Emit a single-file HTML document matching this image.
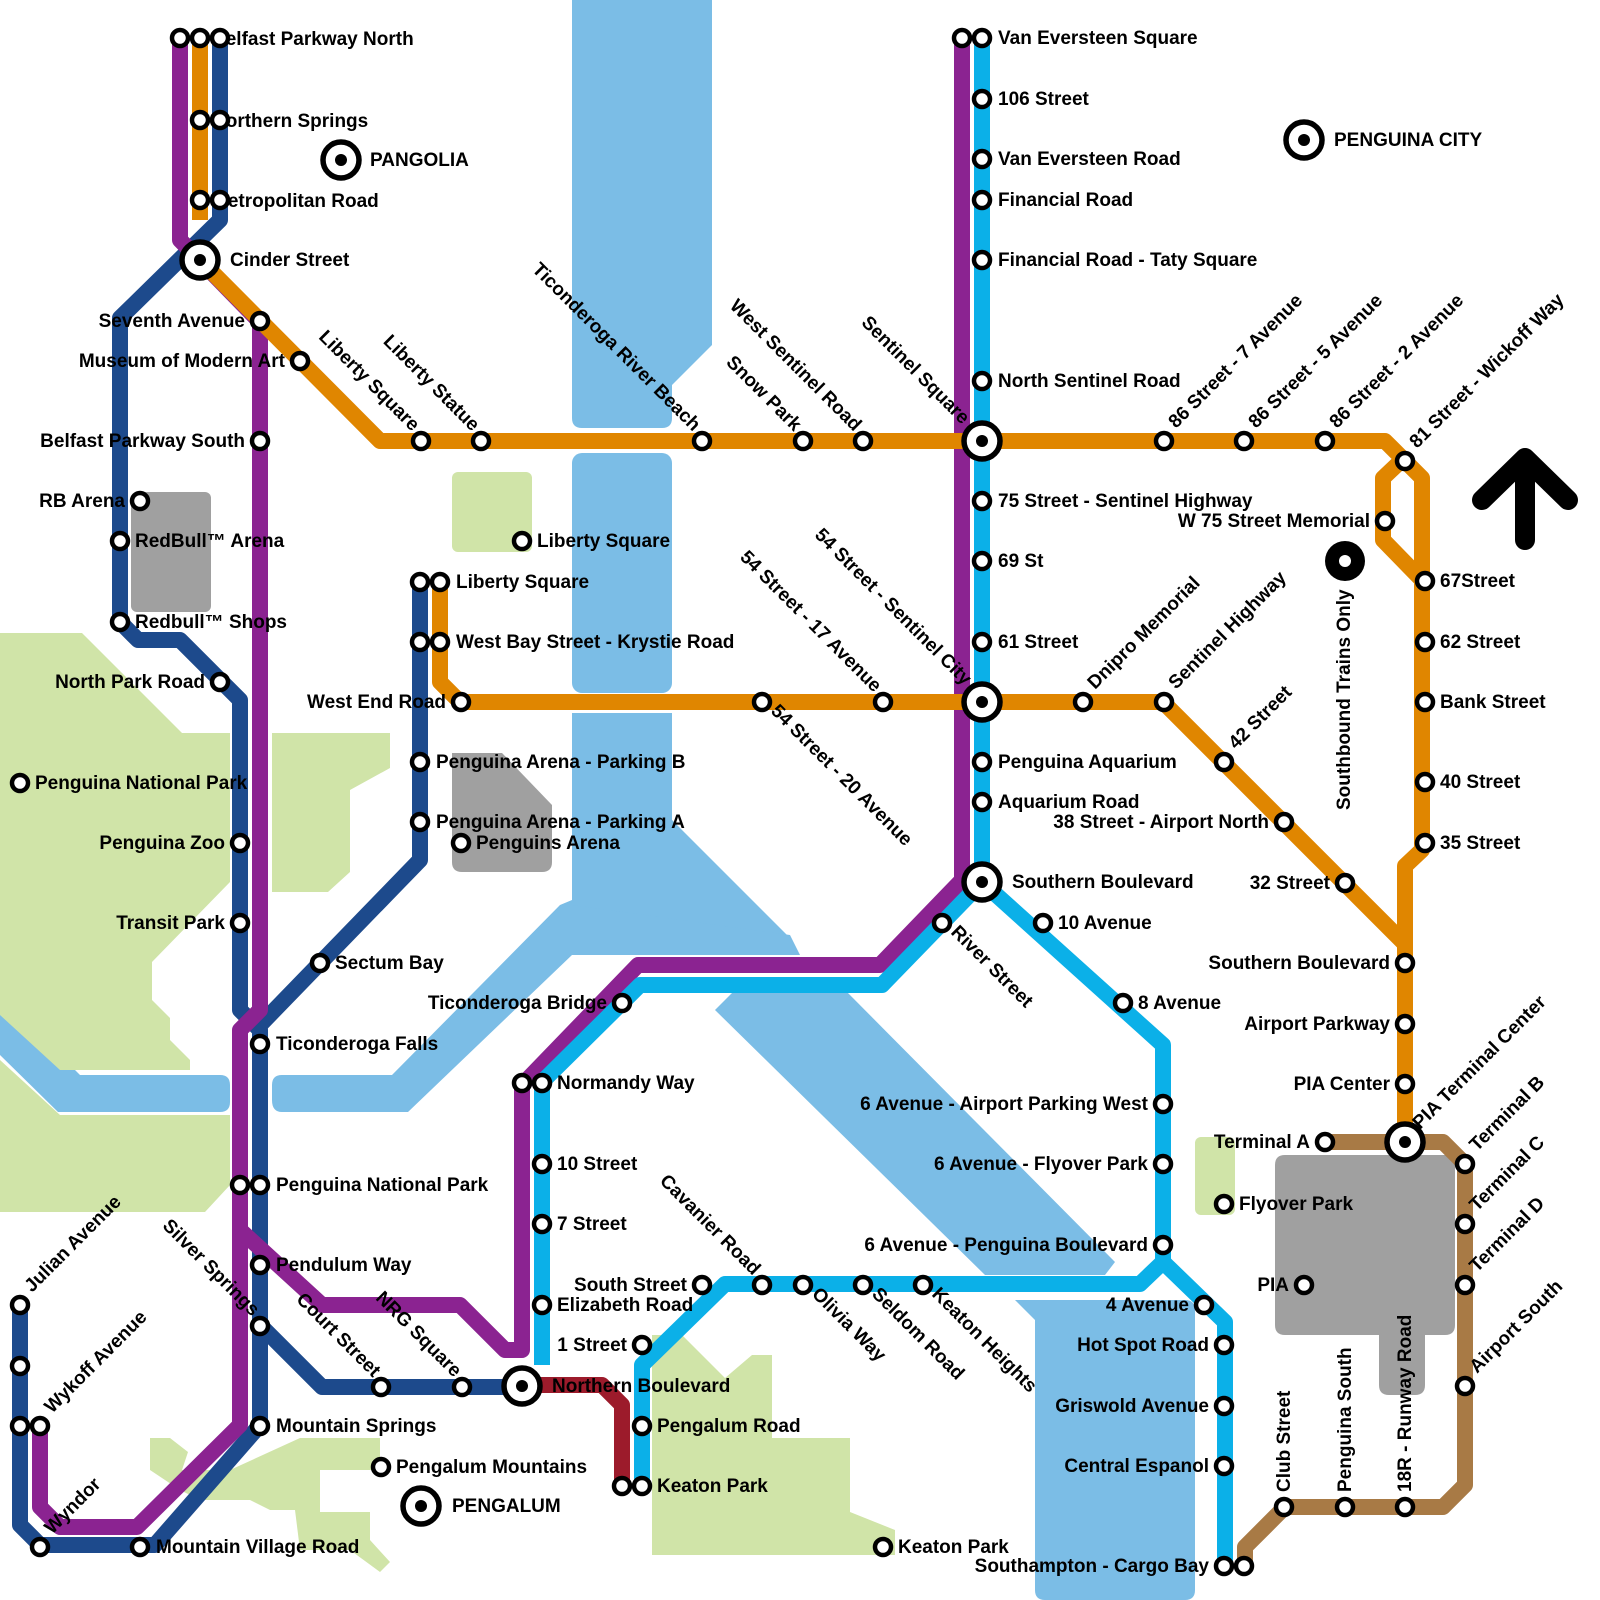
<!DOCTYPE html>
<html><head><meta charset="utf-8"><style>
html,body{margin:0;padding:0;background:#fff}
svg{display:block}
text{font-family:"Liberation Sans",Arial,sans-serif;font-weight:bold;font-size:19px;fill:#000}
.e{text-anchor:end}
</style></head><body>
<svg width="1600" height="1600" viewBox="0 0 1600 1600" xmlns="http://www.w3.org/2000/svg">
<g fill="#7bbde6">
<path d="M572,0 H712 V345 L672,385 V418 Q672,428 662,428 H582 Q572,428 572,418 Z"/>
<rect x="572" y="453" width="100" height="240" rx="10"/>
<path d="M572,713 H672 V820 L792,940 L572,955 Z"/>
<path d="M572,900 L572,955 L408,1112 H282 Q272,1112 272,1100 V1085 Q272,1075 282,1075 H392 L560,905 Z"/>
<path d="M0,1015 H20 L80,1075 H220 Q230,1075 230,1085 V1102 Q230,1112 220,1112 H58 L0,1055 Z"/>
<path d="M572,905 L572,955 L800,955 L790,935 Z"/>
<path d="M715,1010 L735,990 L845,990 L1115,1262 L1105,1275 L985,1275 Z"/>
<path d="M1015,1300 H1185 Q1195,1300 1195,1310 V1590 Q1195,1600 1185,1600 H1045 Q1035,1600 1035,1590 V1320 L1015,1300 Z"/>
</g>
<g fill="#d0e4a8">
<path d="M0,633 H82 L182,733 H230 V882 L152,962 V1000 L170,1018 V1040 L190,1060 V1070 H60 L0,1015 Z"/>
<path d="M0,1060 L60,1115 H230 V1185 L205,1212 H0 Z"/>
<path d="M272,733 H390 V768 L350,790 V872 L328,892 H272 Z"/>
<rect x="452" y="472" width="80" height="80" rx="6"/>
<rect x="1195" y="1137" width="40" height="78" rx="6"/>
<path d="M150,1438 L170,1438 L188,1452 L182,1470 L230,1470 L300,1438 H380 V1470 H320 V1512 H370 V1540 L390,1562 L380,1572 L350,1550 L300,1550 L295,1510 L270,1510 L250,1500 H200 L180,1490 L150,1470 Z"/>
<path d="M652,1335 L682,1335 L725,1378 L752,1355 H772 V1438 H850 V1512 L895,1530 V1555 H652 Z"/>
</g>
<g fill="#a0a0a0">
<rect x="131" y="492" width="80" height="120" rx="6"/>
<path d="M452,753 H502 L552,805 V862 Q552,872 542,872 H462 Q452,872 452,862 Z"/>
<path d="M1285,1155 H1445 Q1455,1155 1455,1165 V1325 Q1455,1335 1445,1335 H1425 V1385 Q1425,1395 1415,1395 H1389 Q1379,1395 1379,1385 V1335 H1285 Q1275,1335 1275,1325 V1165 Q1275,1155 1285,1155 Z"/>
</g>
<g fill="none" stroke-width="16" stroke-linejoin="round">
<path stroke="#1d4a8c" d="M220,38 V220 L120,318 V622 L138,640 H180 L240,700 V1010 L260,1030 V1425 L155,1545 H40 L20,1525 V1305"/>
<path stroke="#1d4a8c" d="M420,582 V860 L260,1025"/>
<path stroke="#1d4a8c" d="M260,1325 L322,1387 H522"/>
<path stroke="#8b2391" d="M180,38 V240 L260,322 V1010 L240,1030 V1425 L137,1527 H60 L40,1507 V1425"/>
<path stroke="#8b2391" d="M240,1230 L322,1305 H460 L505,1350 L522,1350 V1085 L638,965 H880 L962,880 V38"/>
<path stroke="#e08600" d="M200,38 V220"/>
<path stroke="#e08600" d="M200,260 L380,441 H1385 L1422,478 V850 L1405,866 V1142"/>
<path stroke="#e08600" d="M1402,460 L1383,478 V540 L1422,580"/>
<path stroke="#e08600" d="M440,582 V682 L460,702 H1163 L1405,944"/>
<path stroke="#0bb0e8" d="M982,38 V882 L1163,1045 V1262 L1225,1322 V1565"/>
<path stroke="#0bb0e8" d="M982,882 L882,985 H640 L542,1082 V1365"/>
<path stroke="#0bb0e8" d="M1163,1262 L1140,1284 H725 L642,1365 V1485"/>
<path stroke="#9c1b2b" d="M522,1385 H602 L622,1405 V1485"/>
<path stroke="#a87a45" d="M1325,1142 H1443 L1465,1164 V1485 L1443,1507 H1285 L1245,1547 V1565"/>
</g>
<g stroke="#000" stroke-width="20" stroke-linecap="round" stroke-linejoin="round" fill="none">
<path d="M1482,500 L1525,458 L1568,500"/><path d="M1525,462 V540"/>
</g>
<text x="212" y="45">Belfast Parkway North</text>
<text x="212" y="127">Northern Springs</text>
<text x="212" y="207">Metropolitan Road</text>
<g fill="#fff" stroke="#000" stroke-width="4.5">
<circle cx="180" cy="38" r="8"/><circle cx="200" cy="38" r="8"/><circle cx="220" cy="38" r="8"/>
<circle cx="200" cy="120" r="8"/><circle cx="220" cy="120" r="8"/>
<circle cx="200" cy="200" r="8"/><circle cx="220" cy="200" r="8"/>
<circle cx="260" cy="321" r="8"/><circle cx="300" cy="361" r="8"/>
<circle cx="260" cy="441" r="8"/><circle cx="140" cy="501" r="8"/><circle cx="120" cy="541" r="8"/>
<circle cx="120" cy="622" r="8"/><circle cx="220" cy="682" r="8"/><circle cx="20" cy="783" r="8"/>
<circle cx="240" cy="843" r="8"/><circle cx="240" cy="923" r="8"/><circle cx="320" cy="963" r="8"/>
<circle cx="260" cy="1044" r="8"/><circle cx="240" cy="1185" r="8"/><circle cx="260" cy="1185" r="8"/>
<circle cx="260" cy="1265" r="8"/><circle cx="260" cy="1326" r="8"/><circle cx="260" cy="1426" r="8"/>
<circle cx="20" cy="1305" r="8"/><circle cx="20" cy="1366" r="8"/><circle cx="20" cy="1426" r="8"/><circle cx="40" cy="1426" r="8"/>
<circle cx="40" cy="1547" r="8"/><circle cx="140" cy="1547" r="8"/>
<circle cx="381" cy="1387" r="8"/><circle cx="462" cy="1387" r="8"/><circle cx="381" cy="1467" r="8"/>
<circle cx="421" cy="441" r="8"/><circle cx="481" cy="441" r="8"/><circle cx="702" cy="441" r="8"/>
<circle cx="803" cy="441" r="8"/><circle cx="863" cy="441" r="8"/>
<circle cx="1164" cy="441" r="8"/><circle cx="1244" cy="441" r="8"/><circle cx="1325" cy="441" r="8"/><circle cx="1405" cy="461" r="8"/>
<circle cx="522" cy="541" r="8"/><circle cx="420" cy="582" r="8"/><circle cx="440" cy="582" r="8"/>
<circle cx="420" cy="642" r="8"/><circle cx="440" cy="642" r="8"/><circle cx="461" cy="702" r="8"/>
<circle cx="420" cy="762" r="8"/><circle cx="420" cy="822" r="8"/><circle cx="461" cy="843" r="8"/>
<circle cx="762" cy="702" r="8"/><circle cx="883" cy="702" r="8"/><circle cx="1083" cy="702" r="8"/><circle cx="1164" cy="702" r="8"/>
<circle cx="1224" cy="762" r="8"/><circle cx="1284" cy="822" r="8"/><circle cx="1345" cy="883" r="8"/>
<circle cx="962" cy="38" r="8"/><circle cx="982" cy="38" r="8"/><circle cx="982" cy="99" r="8"/><circle cx="982" cy="159" r="8"/>
<circle cx="982" cy="200" r="8"/><circle cx="982" cy="260" r="8"/><circle cx="982" cy="381" r="8"/>
<circle cx="982" cy="501" r="8"/><circle cx="982" cy="561" r="8"/><circle cx="982" cy="642" r="8"/>
<circle cx="982" cy="762" r="8"/><circle cx="982" cy="802" r="8"/>
<circle cx="942" cy="923" r="8"/><circle cx="1043" cy="923" r="8"/><circle cx="1123" cy="1003" r="8"/>
<circle cx="1163" cy="1104" r="8"/><circle cx="1163" cy="1164" r="8"/><circle cx="1163" cy="1245" r="8"/>
<circle cx="1204" cy="1305" r="8"/><circle cx="1224" cy="1345" r="8"/><circle cx="1224" cy="1406" r="8"/><circle cx="1224" cy="1466" r="8"/>
<circle cx="1224" cy="1566" r="8"/><circle cx="1244" cy="1566" r="8"/>
<circle cx="622" cy="1003" r="8"/><circle cx="522" cy="1083" r="8"/><circle cx="542" cy="1083" r="8"/>
<circle cx="542" cy="1164" r="8"/><circle cx="542" cy="1224" r="8"/><circle cx="542" cy="1305" r="8"/>
<circle cx="702" cy="1285" r="8"/><circle cx="762" cy="1285" r="8"/><circle cx="803" cy="1285" r="8"/><circle cx="863" cy="1285" r="8"/><circle cx="923" cy="1285" r="8"/>
<circle cx="642" cy="1345" r="8"/><circle cx="642" cy="1426" r="8"/><circle cx="622" cy="1486" r="8"/><circle cx="642" cy="1486" r="8"/>
<circle cx="883" cy="1547" r="8"/><circle cx="1224" cy="1204" r="8"/>
<circle cx="1385" cy="521" r="8"/><circle cx="1425" cy="581" r="8"/><circle cx="1425" cy="642" r="8"/><circle cx="1425" cy="702" r="8"/>
<circle cx="1425" cy="782" r="8"/><circle cx="1425" cy="843" r="8"/>
<circle cx="1405" cy="963" r="8"/><circle cx="1405" cy="1024" r="8"/><circle cx="1405" cy="1084" r="8"/>
<circle cx="1325" cy="1142" r="8"/><circle cx="1465" cy="1164" r="8"/><circle cx="1465" cy="1224" r="8"/><circle cx="1465" cy="1285" r="8"/><circle cx="1465" cy="1386" r="8"/>
<circle cx="1304" cy="1285" r="8"/>
<circle cx="1284" cy="1507" r="8"/><circle cx="1345" cy="1507" r="8"/><circle cx="1405" cy="1507" r="8"/>
</g>
<g fill="#fff" stroke="#000" stroke-width="5.5">
<circle cx="200" cy="260" r="18"/><circle cx="982" cy="441" r="18"/><circle cx="982" cy="702" r="18"/>
<circle cx="982" cy="882" r="18"/><circle cx="522" cy="1386" r="18"/><circle cx="1405" cy="1142" r="18"/>
<circle cx="341" cy="160" r="18"/><circle cx="421" cy="1506" r="18"/><circle cx="1304" cy="140" r="18"/>
</g>
<g fill="#000">
<circle cx="200" cy="260" r="6"/><circle cx="982" cy="441" r="6"/><circle cx="982" cy="702" r="6"/>
<circle cx="982" cy="882" r="6"/><circle cx="522" cy="1386" r="6"/><circle cx="1405" cy="1142" r="6"/>
<circle cx="341" cy="160" r="6"/><circle cx="421" cy="1506" r="6"/><circle cx="1304" cy="140" r="6"/>
<circle cx="1345" cy="561" r="20"/>
</g>
<circle cx="1345" cy="561" r="6" fill="#fff"/>
<g>
<text x="230" y="266">Cinder Street</text>
<text x="370" y="166">PANGOLIA</text>
<text x="452" y="1512">PENGALUM</text>
<text x="1334" y="146">PENGUINA CITY</text>
<text class="e" x="245" y="327">Seventh Avenue</text>
<text class="e" x="285" y="367">Museum of Modern Art</text>
<text class="e" x="245" y="447">Belfast Parkway South</text>
<text class="e" x="125" y="507">RB Arena</text>
<text x="135" y="547">RedBull™ Arena</text>
<text x="135" y="628">Redbull™ Shops</text>
<text class="e" x="205" y="688">North Park Road</text>
<text x="35" y="789">Penguina National Park</text>
<text class="e" x="225" y="849">Penguina Zoo</text>
<text class="e" x="225" y="929">Transit Park</text>
<text x="335" y="969">Sectum Bay</text>
<text x="276" y="1050">Ticonderoga Falls</text>
<text x="276" y="1191">Penguina National Park</text>
<text x="276" y="1271">Pendulum Way</text>
<text x="276" y="1432">Mountain Springs</text>
<text x="156" y="1553">Mountain Village Road</text>
<text x="396" y="1473">Pengalum Mountains</text>
<text x="552" y="1392">Northern Boulevard</text>
<text x="537" y="547">Liberty Square</text>
<text x="456" y="588">Liberty Square</text>
<text x="456" y="648">West Bay Street - Krystie Road</text>
<text class="e" x="446" y="708">West End Road</text>
<text x="436" y="768">Penguina Arena - Parking B</text>
<text x="436" y="828">Penguina Arena - Parking A</text>
<text x="476" y="849">Penguins Arena</text>
<text x="998" y="44">Van Eversteen Square</text>
<text x="998" y="105">106 Street</text>
<text x="998" y="165">Van Eversteen Road</text>
<text x="998" y="206">Financial Road</text>
<text x="998" y="266">Financial Road - Taty Square</text>
<text x="998" y="387">North Sentinel Road</text>
<text x="998" y="507">75 Street - Sentinel Highway</text>
<text x="998" y="567">69 St</text>
<text x="998" y="648">61 Street</text>
<text x="998" y="768">Penguina Aquarium</text>
<text x="998" y="808">Aquarium Road</text>
<text x="1012" y="888">Southern Boulevard</text>
<text x="1058" y="929">10 Avenue</text>
<text x="1138" y="1009">8 Avenue</text>
<text class="e" x="1148" y="1110">6 Avenue - Airport Parking West</text>
<text class="e" x="1148" y="1170">6 Avenue - Flyover Park</text>
<text class="e" x="1148" y="1251">6 Avenue - Penguina Boulevard</text>
<text class="e" x="1189" y="1311">4 Avenue</text>
<text class="e" x="1209" y="1351">Hot Spot Road</text>
<text class="e" x="1209" y="1412">Griswold Avenue</text>
<text class="e" x="1209" y="1472">Central Espanol</text>
<text class="e" x="1209" y="1572">Southampton - Cargo Bay</text>
<text class="e" x="607" y="1009">Ticonderoga Bridge</text>
<text x="557" y="1089">Normandy Way</text>
<text x="557" y="1170">10 Street</text>
<text x="557" y="1230">7 Street</text>
<text x="557" y="1311">Elizabeth Road</text>
<text class="e" x="687" y="1291">South Street</text>
<text class="e" x="627" y="1351">1 Street</text>
<text x="657" y="1432">Pengalum Road</text>
<text x="657" y="1492">Keaton Park</text>
<text x="898" y="1553">Keaton Park</text>
<text x="1239" y="1210">Flyover Park</text>
<text class="e" x="1370" y="527">W 75 Street Memorial</text>
<text x="1440" y="587">67Street</text>
<text x="1440" y="648">62 Street</text>
<text x="1440" y="708">Bank Street</text>
<text x="1440" y="788">40 Street</text>
<text x="1440" y="849">35 Street</text>
<text class="e" x="1269" y="828">38 Street - Airport North</text>
<text class="e" x="1330" y="889">32 Street</text>
<text class="e" x="1390" y="969">Southern Boulevard</text>
<text class="e" x="1390" y="1030">Airport Parkway</text>
<text class="e" x="1390" y="1090">PIA Center</text>
<text class="e" x="1310" y="1148">Terminal A</text>
<text class="e" x="1289" y="1291">PIA</text>
<text transform="translate(1350,810) rotate(-90)">Southbound Trains Only</text>
<text transform="translate(1176,429) rotate(-45)">86 Street - 7 Avenue</text>
<text transform="translate(1256,429) rotate(-45)">86 Street - 5 Avenue</text>
<text transform="translate(1337,429) rotate(-45)">86 Street - 2 Avenue</text>
<text transform="translate(1417,449) rotate(-45)">81 Street - Wickoff Way</text>
<text transform="translate(1095,690) rotate(-45)">Dnipro Memorial</text>
<text transform="translate(1176,690) rotate(-45)">Sentinel Highway</text>
<text transform="translate(1236,750) rotate(-45)">42 Street</text>
<text transform="translate(1420,1130) rotate(-45)">PIA Terminal Center</text>
<text transform="translate(1477,1152) rotate(-45)">Terminal B</text>
<text transform="translate(1477,1212) rotate(-45)">Terminal C</text>
<text transform="translate(1477,1273) rotate(-45)">Terminal D</text>
<text transform="translate(1477,1374) rotate(-45)">Airport South</text>
<text transform="translate(32,1293) rotate(-45)">Julian Avenue</text>
<text transform="translate(52,1414) rotate(-45)">Wykoff Avenue</text>
<text transform="translate(52,1535) rotate(-45)">Wyndor</text>
<text transform="translate(1290,1492) rotate(-90)">Club Street</text>
<text transform="translate(1351,1492) rotate(-90)">Penguina South</text>
<text transform="translate(1411,1492) rotate(-90)">18R - Runway Road</text>
<text class="e" transform="translate(412,432) rotate(45)">Liberty Square</text>
<text class="e" transform="translate(472,432) rotate(45)">Liberty Statue</text>
<text class="e" transform="translate(693,432) rotate(45)">Ticonderoga River Beach</text>
<text class="e" transform="translate(794,432) rotate(45)">Snow Park</text>
<text class="e" transform="translate(854,432) rotate(45)">West Sentinel Road</text>
<text class="e" transform="translate(962,425) rotate(45)">Sentinel Square</text>
<text class="e" transform="translate(874,693) rotate(45)">54 Street - 17 Avenue</text>
<text class="e" transform="translate(964,686) rotate(45)">54 Street - Sentinel City</text>
<text class="e" transform="translate(252,1317) rotate(45)">Silver Springs</text>
<text class="e" transform="translate(373,1378) rotate(45)">Court Street</text>
<text class="e" transform="translate(454,1378) rotate(45)">NRG Square</text>
<text class="e" transform="translate(753,1276) rotate(45)">Cavanier Road</text>
<text transform="translate(770,712) rotate(45)">54 Street - 20 Avenue</text>
<text transform="translate(950,933) rotate(45)">River Street</text>
<text transform="translate(811,1295) rotate(45)">Olivia Way</text>
<text transform="translate(871,1295) rotate(45)">Seldom Road</text>
<text transform="translate(931,1295) rotate(45)">Keaton Heights</text>
</g>
</svg>
</body></html>
